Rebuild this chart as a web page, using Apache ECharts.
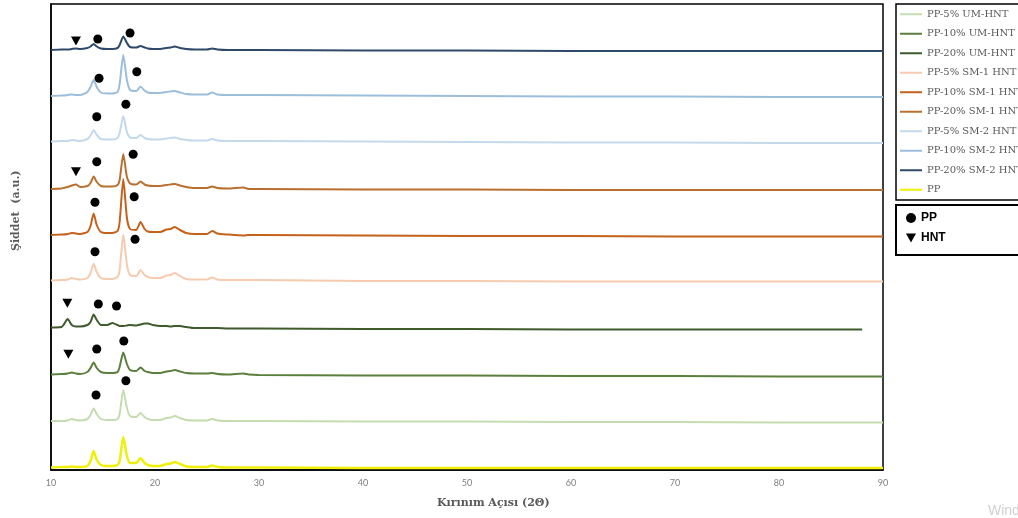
<!DOCTYPE html>
<html>
<head>
<meta charset="utf-8">
<script src="https://cdn.jsdelivr.net/npm/echarts@6/dist/echarts.min.js"></script>
<style>html,body{margin:0;padding:0;background:#fff;}#c{width:1018px;height:518px;}</style>
</head>
<body>
<div id="c"></div>
<script>
// 2θ grid (degrees)
const twoTheta = [10, 11, 11.2, 11.6, 12.0, 12.4, 12.8, 13.5, 13.8, 14.1, 14.4, 14.8, 15.4, 15.9, 16.4, 16.6, 16.95, 17.3, 17.6, 18.2, 18.6, 19.0, 19.3, 19.8, 20.5, 21.1, 21.5, 21.9, 22.4, 23.0, 23.8, 25.0, 25.5, 26.0, 27.0, 28.5, 29.0, 30, 40, 50, 60, 70, 80, 88, 90];

// Stacked (offset) intensities, a.u.
const pp      = [2.5, 3, 3, 3, 3.5, 3, 3, 4, 9, 19, 10, 5, 4, 4, 5, 9, 33, 14, 7, 7, 12, 7, 5, 4, 4, 6, 6.5, 8, 6, 3.5, 3, 3, 4.5, 3, 2.5, 2.5, 2.5, 2.5, 2, 2, 2, 2, 2, 2, 2];
const um5     = [49, 49, 49, 49.5, 51, 50, 49.5, 51, 55, 61.5, 56, 51, 50, 50, 51, 56, 80, 62, 54, 53, 57, 53, 51, 50, 50, 52, 52.5, 54, 52, 50, 49.5, 49.5, 51, 49.5, 49, 49, 49, 49, 48.5, 48.5, 48, 48, 47.5, 47.5, 47.5];
const um10    = [95.5, 96, 96, 96.5, 97.5, 96.5, 96, 98, 102, 107.5, 102, 98, 97, 97, 98, 103, 117.5, 106, 100, 99, 102.5, 99, 98, 97, 97, 98.5, 99, 100, 98.5, 97, 96.5, 96.5, 97, 96, 95.5, 96.5, 95.5, 95, 94.5, 94.5, 94, 94, 93.5, 93.5, 93.5];
const um20    = [142.5, 143, 145, 151, 145, 143.5, 143.5, 145, 148, 155.5, 150, 145, 145, 147, 145, 144, 144, 144.5, 145, 144.5, 145.5, 146.5, 146.5, 145, 144, 144, 143.5, 144, 144, 143, 142, 142, 142, 142, 141.5, 141.5, 141.5, 141.5, 141, 141, 140.5, 140.5, 140.5, 140.5, null];
const sm1_5   = [189.5, 190, 190, 190.5, 192, 191, 190.5, 192, 197, 206, 198, 192, 191, 191, 193, 200, 235.5, 205, 195, 194, 200, 195, 193, 192, 192, 194.5, 195, 197, 194, 191, 190.5, 190.5, 192.5, 190.5, 190, 190, 190, 190, 189, 189, 188.5, 188.5, 188.5, 188.5, 188.5];
const sm1_10  = [235, 235.5, 235.5, 236, 237, 236.5, 236, 238, 244, 256.5, 245, 238, 237, 237, 239, 248, 291, 252, 241, 240, 248, 241, 238.5, 238, 238, 240.5, 241, 243, 240, 237, 236, 236, 239, 236.5, 235.5, 234.5, 235, 235, 234.5, 234, 234, 233.5, 233.5, 233.5, 233.5];
const sm1_20  = [281, 281.5, 282, 283, 284.5, 285.5, 283, 284, 287, 293.5, 288, 284, 283.5, 283.5, 285, 290, 316, 293, 286.5, 285.5, 288.5, 285.5, 284.5, 284, 284, 285, 285.5, 286, 284.5, 283, 282, 282, 283.5, 282, 281.5, 282.5, 281, 281, 280.5, 280.5, 280, 280, 280, 280, 280];
const sm2_5   = [328.5, 329, 329, 329, 330, 329.5, 329, 331, 334.5, 340, 335, 331, 330.5, 330.5, 332, 337, 354, 338, 332.5, 332, 335, 332, 331, 330.5, 330.5, 331.5, 332, 332.5, 331, 330, 329.5, 329.5, 331, 329.5, 329, 329, 329, 329, 328.5, 328, 327.5, 327.5, 327, 327, 327];
const sm2_10  = [374, 374.5, 374.5, 375, 375.5, 375, 375, 378, 383, 390, 383, 377.5, 376.5, 376.5, 378, 386, 415, 390, 380, 379, 383.5, 379.5, 377.5, 377, 377, 378, 378.5, 379, 377.5, 376, 375.5, 375.5, 377.5, 375.5, 375, 375, 375, 375, 374.5, 374, 373.5, 373.5, 373, 373, 373];
const sm2_20  = [420, 420.5, 420.5, 420.5, 421, 421.5, 421, 422, 423.5, 426, 423.5, 421.5, 421, 421, 422, 425, 433.5, 427, 423, 422.5, 424, 422.5, 421.5, 421, 421, 422, 422.5, 423.5, 422, 421, 420.5, 420.5, 421.5, 420.5, 420, 420, 420, 420, 419.5, 419.5, 419, 419, 419, 419, 419];

const seriesNames = ['PP-5% UM-HNT', 'PP-10% UM-HNT', 'PP-20% UM-HNT', 'PP-5% SM-1 HNT', 'PP-10% SM-1 HNT', 'PP-20% SM-1 HNT', 'PP-5% SM-2 HNT', 'PP-10% SM-2 HNT', 'PP-20% SM-2 HNT', 'PP'];
const seriesValues = [um5, um10, um20, sm1_5, sm1_10, sm1_20, sm2_5, sm2_10, sm2_20, pp];
const seriesColors = ['#c5dcb0', '#5b7f3c', '#3f5a2c', '#f6cbb0', '#c4621c', '#b9702f', '#c4d9ec', '#9dbedb', '#2e4a68', '#f0ef0a'];
const seriesWidths = [2, 2, 2, 2, 2, 2, 2, 2, 2, 2.5];

// Peak markers [2θ, a.u.]
const ppMarkers = [[14.5, 431], [17.6, 437], [14.62, 391.7], [18.25, 398.3], [14.4, 353.3], [17.2, 365.7], [14.4, 308.3], [17.9, 315.7], [14.23, 267.7], [18.0, 273.3], [14.23, 218.3], [18.08, 230.7], [14.55, 166], [16.3, 164], [14.4, 121], [17.0, 129], [14.33, 75], [17.2, 89.3]];
const hntMarkers = [[12.4, 429], [12.4, 298.3], [11.57, 166.7], [11.67, 115.7]];

const xMin = 10, xMax = 90, xStep = 10;
const triPath = 'path://M0,0 L10,0 L5,9 Z';

const chart = echarts.init(document.getElementById('c'), null, {renderer: 'canvas'});
const lineSeries = seriesNames.map((n, i) => ({
  name: n,
  type: 'line',
  data: twoTheta.map((x, j) => [x, seriesValues[i][j]]),
  symbol: 'none',
  smooth: 0.2,
  connectNulls: false,
  lineStyle: {color: seriesColors[i], width: seriesWidths[i]},
  itemStyle: {color: seriesColors[i]},
  z: 2,
  animation: false
}));

chart.setOption({
  animation: false,
  backgroundColor: '#fff',
  grid: {left: 51, right: 135, top: 4, bottom: 48, show: true, borderColor: '#000', borderWidth: 1.5, backgroundColor: 'transparent'},
  xAxis: {
    type: 'value', min: xMin, max: xMax, interval: xStep,
    axisLine: {show: true, lineStyle: {color: '#000', width: 1.5}},
    axisTick: {show: false},
    splitLine: {show: false},
    axisLabel: {color: '#7f7f7f', fontSize: 9, fontFamily: 'Lato', margin: 9}
  },
  yAxis: {
    type: 'value', min: 0, max: 466,
    axisLine: {show: true, lineStyle: {color: '#000', width: 1.5}},
    axisTick: {show: false}, axisLabel: {show: false}, splitLine: {show: false}
  },
  legend: [{
    data: seriesNames.map(n => ({name: n, icon: 'rect'})),
    orient: 'vertical',
    left: 896, top: 4,
    padding: [0.5, 40, 0.5, 4],
    itemWidth: 22, itemHeight: 2, itemGap: 0, itemTextGap: 5,
    borderColor: '#000', borderWidth: 1.5,
    selectedMode: false,
    textStyle: {color: '#595959', fontFamily: 'DejaVu Serif', fontSize: 10, lineHeight: 19.5}
  }, {
    data: [{name: 'PP-marker', icon: 'circle'}, {name: 'HNT-marker', icon: triPath}],
    orient: 'vertical',
    left: 896, top: 205,
    padding: [7, 100, 11, 10],
    itemWidth: 10, itemHeight: 11, itemGap: 8, itemTextGap: 13,
    borderColor: '#000', borderWidth: 2,
    selectedMode: false,
    formatter: n => n.replace('-marker', ''),
    textStyle: {color: '#000', fontFamily: 'Liberation Sans', fontWeight: 'bold', fontSize: 12, lineHeight: 12}
  }],
  graphic: [
    {type: 'text', left: 437, top: 498, style: {text: 'Kırınım Açısı (2Θ)', fill: '#595959', font: 'bold 11px "DejaVu Serif"'}},
    {type: 'text', x: 11, y: 251, rotation: Math.PI / 2, style: {text: 'Şiddet  (a.u.)', fill: '#595959', font: 'bold 11px "DejaVu Serif"'}},
    {type: 'text', left: 988, top: 504, style: {text: "Windows'u Etkinleştir", fill: '#d0d0d0', font: '14px "Liberation Sans"'}}
  ],
  series: lineSeries.concat([
    {name: 'PP-marker', type: 'scatter', data: ppMarkers, symbol: 'circle', symbolSize: 9, itemStyle: {color: '#000', opacity: 1}, z: 5},
    {name: 'HNT-marker', type: 'scatter', data: hntMarkers, symbol: triPath, symbolSize: [10, 9], itemStyle: {color: '#000', opacity: 1}, z: 5}
  ])
});
</script>
</body>
</html>
